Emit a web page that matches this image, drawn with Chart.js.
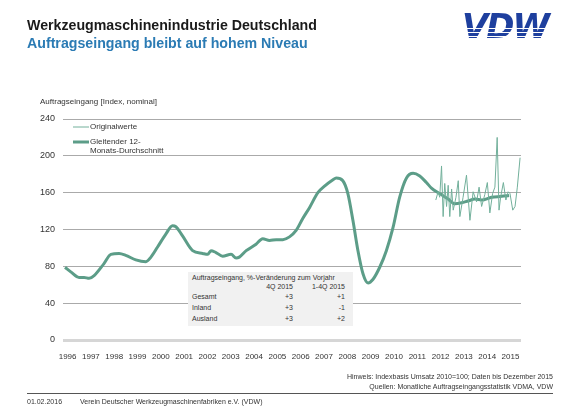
<!DOCTYPE html>
<html>
<head>
<meta charset="utf-8">
<script src="https://cdn.jsdelivr.net/npm/chart.js@4"></script>
<style>
  body { margin: 0; background: #fff; font-family: Arial, "Liberation Sans", sans-serif; }
  #wrap { position: relative; width: 580px; height: 407px; overflow: hidden; }
  #chart { position: absolute; left: 0; top: 0; }
  .t1 { position: absolute; left: 27px; top: 17px; font-size: 14.2px; font-weight: bold; color: #1a1a1a; }
  .t2 { position: absolute; left: 27px; top: 35px; font-size: 14.2px; font-weight: bold; color: #2b7bb4; }
  .logo { position: absolute; left: 458px; top: 9px; font-family: "DejaVu Sans", sans-serif; font-size: 34px; line-height: 34px;
          font-weight: bold; font-style: italic; padding: 0 10px 0 4px; letter-spacing: -2px;
          background: linear-gradient(to bottom, #1e3f9e 0 19px, #fff 19px 20.5px, #1e3f9e 20.5px 23px, #fff 23px 24.5px, #1e3f9e 24.5px 27px, #fff 27px 28.5px, #1e3f9e 28.5px 60px);
          -webkit-background-clip: text; background-clip: text; color: transparent; }
  .ytitle { position: absolute; left: 40px; top: 97px; font-size: 8px; color: #333; }
  .tbl { position: absolute; left: 188px; top: 272px; width: 165px; height: 54px; background: #f1f1f1;
         font-size: 7px; color: #333; }
  .tbl div { position: absolute; white-space: nowrap; }
  .note { position: absolute; right: 27px; font-size: 7px; color: #333; text-align: right; white-space: nowrap; }
  .rule { position: absolute; left: 27px; width: 526px; top: 393px; height: 1px; background: #555; }
  .foot { position: absolute; top: 398px; font-size: 7px; color: #333; white-space: nowrap; }
</style>
</head>
<body>
<div id="wrap">
  <canvas id="chart" width="580" height="407"></canvas>
  <div class="t1">Werkzeugmaschinenindustrie Deutschland</div>
  <div class="t2">Auftragseingang bleibt auf hohem Niveau</div>
  <div class="logo">VDW</div>
  <div class="ytitle">Auftragseingang [Index, nominal]</div>
  <div class="tbl" id="tbl"></div>
  <div class="note" style="top:373px">Hinweis: Indexbasis Umsatz 2010=100; Daten bis Dezember 2015</div>
  <div class="note" style="top:383px">Quellen: Monatliche Auftragseingangsstatistik VDMA, VDW</div>
  <div class="rule"></div>
  <div class="foot" style="left:27px">01.02.2016</div>
  <div class="foot" style="left:80px">Verein Deutscher Werkzeugmaschinenfabriken e.V. (VDW)</div>
</div>
<script>
const yearLabels = ['1996', '1997', '1998', '1999', '2000', '2001', '2002', '2003', '2004', '2005',
  '2006', '2007', '2008', '2009', '2010', '2011', '2012', '2013', '2014', '2015'];

// gleitender 12-Monats-Durchschnitt
const avgTimes = [1996.09, 1996.34, 1996.70, 1996.92, 1997.14, 1997.36, 1997.79, 1998.09, 1998.45, 1998.74,
  1999.18, 1999.62, 1999.84, 2000.13, 2000.49, 2000.78, 2000.93, 2001.22, 2001.66, 2002.10,
  2002.32, 2002.46, 2002.68, 2002.97, 2003.34, 2003.56, 2003.70, 2004.00, 2004.43, 2004.72,
  2005.02, 2005.31, 2005.60, 2005.89, 2006.18, 2006.47, 2006.77, 2007.13, 2007.42, 2007.79,
  2007.93, 2008.22, 2008.44, 2008.66, 2008.88, 2009.10, 2009.32, 2009.54, 2009.83, 2010.12,
  2010.41, 2010.70, 2011.00, 2011.29, 2011.58, 2011.87, 2012.09, 2012.45, 2012.82, 2013.11,
  2013.40, 2013.69, 2013.99, 2014.28, 2014.72, 2015.16, 2015.48];
const avgValues = [79, 74, 68, 68, 67, 70, 83, 93, 94, 92,
  87, 85, 90, 101, 115, 124, 123, 113, 97, 94,
  93, 97, 95, 91, 93, 89, 90, 97, 104, 110,
  108, 109, 109, 112, 119, 132, 144, 160, 167, 174,
  176, 173, 159, 130, 97, 72, 62, 66, 79, 97,
  122, 155, 176, 181, 178, 171, 165, 159, 153, 148,
  149, 151, 153, 152, 155, 156, 157];

// Originalwerte (ab 2012)
const origTimes = [2012.28, 2012.38, 2012.45, 2012.53, 2012.60, 2012.67, 2012.75, 2012.82, 2012.89, 2012.97,
  2013.04, 2013.16, 2013.26, 2013.33, 2013.47, 2013.62, 2013.77, 2013.91, 2014.06, 2014.17,
  2014.28, 2014.42, 2014.53, 2014.64, 2014.76, 2014.86, 2014.96, 2015.04, 2015.11, 2015.23,
  2015.34, 2015.44, 2015.52, 2015.64, 2015.74, 2015.84, 2015.96];
const origValues = [152, 161, 155, 189, 134, 170, 145, 168, 134, 164,
  141, 155, 173, 134, 155, 179, 130, 161, 150, 166,
  145, 158, 171, 138, 159, 166, 220, 141, 155, 171,
  152, 161, 159, 141, 145, 166, 198];

const tableTitle = 'Auftragseingang, %-Veränderung zum Vorjahr';
const tableCols = ['4Q 2015', '1-4Q 2015'];
const tableRows = ['Gesamt', 'Inland', 'Ausland'];
const tableQ4 = ['+3', '+3', '+3'];
const tableYear = ['+1', '-1', '+2'];

const lineColor = '#5c9d88';

// kleine Tabelle
const tbl = document.getElementById('tbl');
function cell(text, left, top, right) {
  const d = document.createElement('div');
  d.textContent = text;
  d.style.top = top + 'px';
  if (right) d.style.right = right + 'px'; else d.style.left = left + 'px';
  tbl.appendChild(d);
}
cell(tableTitle, 4, 2);
cell(tableCols[0], 0, 11, 60);
cell(tableCols[1], 0, 11, 8);
tableRows.forEach((r, i) => {
  cell(r, 4, 21 + i * 11);
  cell(tableQ4[i], 0, 21 + i * 11, 60);
  cell(tableYear[i], 0, 21 + i * 11, 8);
});

const legendPlugin = {
  id: 'sideLegend',
  afterDraw(chart) {
    const ctx = chart.ctx;
    ctx.save();
    ctx.font = '8px Arial, "Liberation Sans", sans-serif';
    ctx.fillStyle = '#333';
    ctx.textBaseline = 'middle';
    const rows = [{ y: 127, ds: chart.data.datasets[0] }, { y: 142, ds: chart.data.datasets[1] }];
    rows.forEach(r => {
      ctx.strokeStyle = r.ds.borderColor;
      ctx.lineWidth = r.ds.borderWidth;
      ctx.beginPath();
      ctx.moveTo(73, r.y);
      ctx.lineTo(89, r.y);
      ctx.stroke();
      r.ds.label.split('\n').forEach((t, i) => ctx.fillText(t, 90, r.y + i * 9));
    });
    ctx.restore();
  }
};

new Chart(document.getElementById('chart'), {
  type: 'line',
  data: {
    datasets: [
      {
        label: 'Originalwerte',
        data: origTimes.map((t, i) => ({ x: t, y: origValues[i] })),
        borderColor: '#72b09b',
        borderWidth: 1,
        pointRadius: 0,
        tension: 0,
      },
      {
        label: 'Gleitender 12-\nMonats-Durchschnitt',
        data: avgTimes.map((t, i) => ({ x: t, y: avgValues[i] })),
        borderColor: lineColor,
        borderWidth: 3,
        pointRadius: 0,
        cubicInterpolationMode: 'monotone',
      },
    ],
  },
  options: {
    responsive: false,
    animation: false,
    layout: { padding: { left: 28, right: 59, top: 119, bottom: 47 } },
    plugins: { legend: { display: false }, tooltip: { enabled: false } },
    scales: {
      x: {
        type: 'linear',
        min: 1996,
        max: 2016,
        afterBuildTicks: scale => {
          scale.ticks = yearLabels.map((y, i) => ({ value: 1996.2 + i * 1.018 }));
        },
        afterFit: scale => { scale.height = 20; },
        grid: { display: false },
        border: { display: false },
        ticks: {
          autoSkip: false,
          maxRotation: 0,
          padding: 4,
          color: '#333',
          font: { size: 8, family: 'Arial, "Liberation Sans", sans-serif' },
          callback: (v, i) => yearLabels[i],
        },
      },
      y: {
        min: 0,
        max: 240,
        afterFit: scale => { scale.width = 35; },
        border: { display: false },
        grid: {
          drawTicks: false,
          color: ctx => (ctx.tick && ctx.tick.value === 0 ? '#d6d6d6' : '#aaaaaa'),
          lineWidth: ctx => (ctx.tick && ctx.tick.value === 0 ? 3 : 1),
        },
        ticks: {
          stepSize: 40,
          padding: 8,
          color: '#333',
          font: { size: 9, family: 'Arial, "Liberation Sans", sans-serif' },
        },
      },
    },
  },
  plugins: [legendPlugin],
});
</script>
</body>
</html>
